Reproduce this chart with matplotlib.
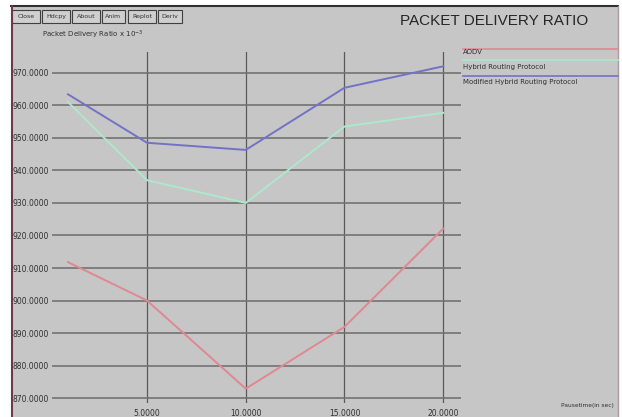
import matplotlib
matplotlib.use('Agg')
import matplotlib.pyplot as plt
from matplotlib.patches import Rectangle
from matplotlib.lines import Line2D

# ========== data ==========
pauseTime = [1, 5, 10, 15, 20]
aodv = [911.8, 900.0, 872.9, 891.9, 922.1]
hybrid = [961.0, 937.0, 930.0, 953.5, 957.7]
modHybrid = [963.4, 948.5, 946.3, 965.4, 972.0]

seriesNames = ['AODV', 'Hybrid Routing Protocol', 'Modified Hybrid Routing Protocol']
seriesColours = ['#e08892', '#ace8cc', '#7472c6']

xTicks = [5, 10, 15, 20]
yTicks = [870, 880, 890, 900, 910, 920, 930, 940, 950, 960, 970]
buttons = ['Close', 'Hdcpy', 'About', 'Anim', 'Replot', 'Deriv']

W, H = 622, 417
bg = '#c6c6c6'

def fx(px):
    return px / W

def fy(py):
    return 1 - py / H

fig = plt.figure(figsize=(W/100, H/100), dpi=100)
fig.patch.set_facecolor('white')

# window background and borders
fig.patches.append(Rectangle((fx(11), 0), fx(618) - fx(11), fy(6), transform=fig.transFigure,
                             facecolor=bg, edgecolor='none', zorder=-5))
fig.lines.append(Line2D([fx(11), fx(618)], [fy(6), fy(6)], transform=fig.transFigure, color='#303030', lw=1.5))
fig.lines.append(Line2D([fx(11.5), fx(11.5)], [0, fy(6)], transform=fig.transFigure, color='#6b3a4a', lw=1.5))
fig.lines.append(Line2D([fx(618), fx(618)], [0, fy(6)], transform=fig.transFigure, color='#a89aa0', lw=1.0))

# buttons
bx = [12, 42, 72, 102, 128, 158]
bw = [28, 28, 28, 23, 28, 24]
for name, x0, w in zip(buttons, bx, bw):
    fig.patches.append(Rectangle((fx(x0), fy(23)), fx(w), fy(10) - fy(23), transform=fig.transFigure,
                                 facecolor='#cfcfcf', edgecolor='#404040', lw=0.8, zorder=1))
    fig.text(fx(x0 + w/2), fy(16.5), name, fontsize=4.5, ha='center', va='center', color='#303030')

fig.text(fx(400), fy(21), 'PACKET DELIVERY RATIO', fontsize=11, ha='left', va='center',
         color='#262626', family='Liberation Sans')
fig.text(fx(42), fy(35), r'Packet Delivery Ratio x 10$^{-3}$', fontsize=5, ha='left', va='center', color='#303030')
fig.text(fx(614), fy(406), 'Pausetime(in sec)', fontsize=4.2, ha='right', va='center', color='#303030')

# legend entries: line above, label underneath
legLines = [49, 60, 76]
legTexts = [52, 67, 82]
for name, colour, ly, ty in zip(seriesNames, seriesColours, legLines, legTexts):
    fig.lines.append(Line2D([fx(463), fx(618)], [fy(ly), fy(ly)], transform=fig.transFigure, color=colour, lw=1.2))
    fig.text(fx(463), fy(ty), name, fontsize=5, ha='left', va='center', color='#303030')

# ========== plot ==========
ax = fig.add_axes([fx(52), fy(403), fx(461) - fx(52), fy(52) - fy(403)])
ax.set_zorder(3)
ax.set_facecolor('none')
for s in ax.spines.values():
    s.set_visible(False)
ax.set_xlim(0.19, 20.9)
ax.set_ylim(868.5, 976.4)
ax.set_xticks(xTicks)
ax.set_yticks(yTicks)
ax.set_xticklabels(['%.4f' % v for v in xTicks])
ax.set_yticklabels(['%.4f' % v for v in yTicks])
ax.tick_params(length=0, labelsize=5.5, colors='#303030', pad=2)
ax.tick_params(axis='x', pad=4)
ax.grid(True, axis='y', color='#727272', lw=1.2)
ax.grid(True, axis='x', color='#5a5a5a', lw=0.9)
ax.set_axisbelow(True)

for vals, colour in zip([aodv, hybrid, modHybrid], seriesColours):
    ax.plot(pauseTime, vals, color=colour, lw=1.4)

plt.savefig('out.png', dpi=100, facecolor=fig.get_facecolor())
